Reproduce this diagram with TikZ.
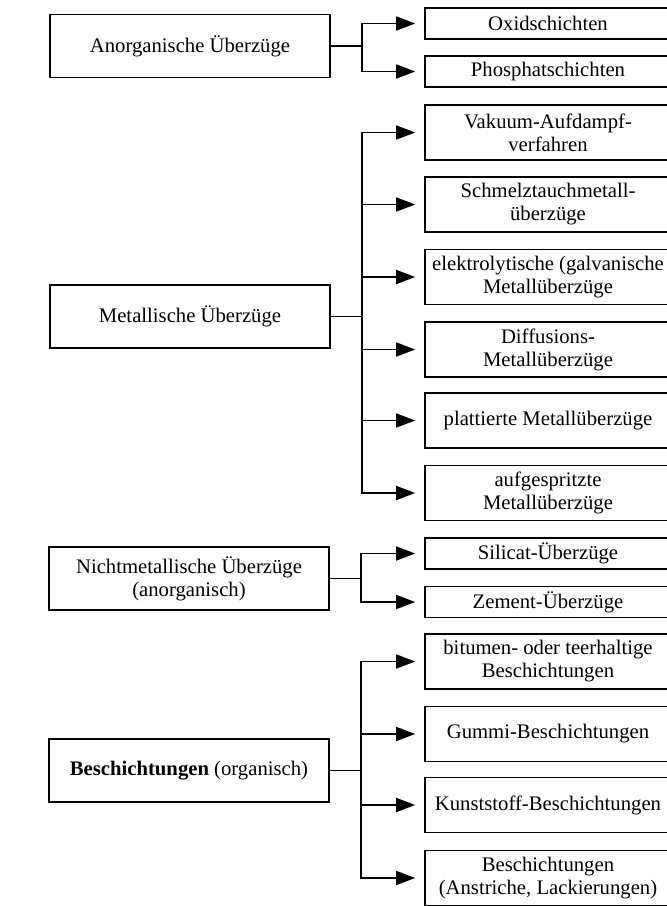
\documentclass[tikz,border=0pt]{standalone}
\usepackage{fontspec}
\setmainfont{Liberation Serif}
\usetikzlibrary{arrows.meta}

\begin{document}
\begin{tikzpicture}[x=1pt,y=-1pt,line width=1.6pt,
      every node/.style={shape=rectangle,draw,align=center,inner sep=2pt,
        font=\fontsize{20.7}{23}\selectfont},
      gruppe/.style={minimum width=280pt,minimum height=63pt},
      art/.style={minimum width=246pt,minimum height=55pt},
      flach/.style={minimum height=31pt},
      pfeil/.style={-{Triangle[length=19pt,width=14pt]},shorten >=9pt}]
  \clip (0,0) rectangle (667,906);
  \node[gruppe] (anorg) at (190,46) {Anorganische Überzüge};
  \node[gruppe] (metall) at (190,316.5) {Metallische Überzüge};
  \node[gruppe] (nichtmet) at (189,578.5) {Nichtmetallische Überzüge\\(anorganisch)};
  \node[gruppe] (beschicht) at (189,770.5) {\textbf{Beschichtungen} (organisch)};
  \node[art,flach] (oxid) at (548,23.5) {Oxidschichten};
  \node[art,flach] (phosphat) at (548,71.5) {Phosphatschichten};
  \node[art] (vakuum) at (548,132.5) {Vakuum-Aufdampf-\\verfahren};
  \node[art] (schmelz) at (548,204.5) {Schmelztauchmetall-\\überzüge};
  \node[art] (elektro) at (548,277) {elektrolytische (galvanische\\Metallüberzüge};
  \node[art] (diffusion) at (548,349.5) {Diffusions-\\Metallüberzüge};
  \node[art] (plattiert) at (548,420.5) {plattierte Metallüberzüge};
  \node[art] (gespritzt) at (548,493) {aufgespritzte\\Metallüberzüge};
  \node[art,flach] (silicat) at (548,553.5) {Silicat-Überzüge};
  \node[art,flach] (zement) at (548,602) {Zement-Überzüge};
  \node[art] (bitumen) at (548,661.5) {bitumen- oder teerhaltige\\Beschichtungen};
  \node[art] (gummi) at (548,734) {Gummi-Beschichtungen};
  \node[art] (kunststoff) at (548,805) {Kunststoff-Beschichtungen};
  \node[art] (anstrich) at (548,878) {Beschichtungen\\(Anstriche, Lackierungen)};
  \foreach \z in {oxid,phosphat}
    \draw[pfeil] (anorg.east) -- ++(31,0) |- (\z.west);
  \foreach \z in {vakuum,schmelz,elektro,diffusion,plattiert,gespritzt}
    \draw[pfeil] (metall.east) -- ++(31,0) |- (\z.west);
  \foreach \z in {silicat,zement}
    \draw[pfeil] (nichtmet.east) -- ++(31,0) |- (\z.west);
  \foreach \z in {bitumen,gummi,kunststoff,anstrich}
    \draw[pfeil] (beschicht.east) -- ++(31,0) |- (\z.west);
\end{tikzpicture}
\end{document}
